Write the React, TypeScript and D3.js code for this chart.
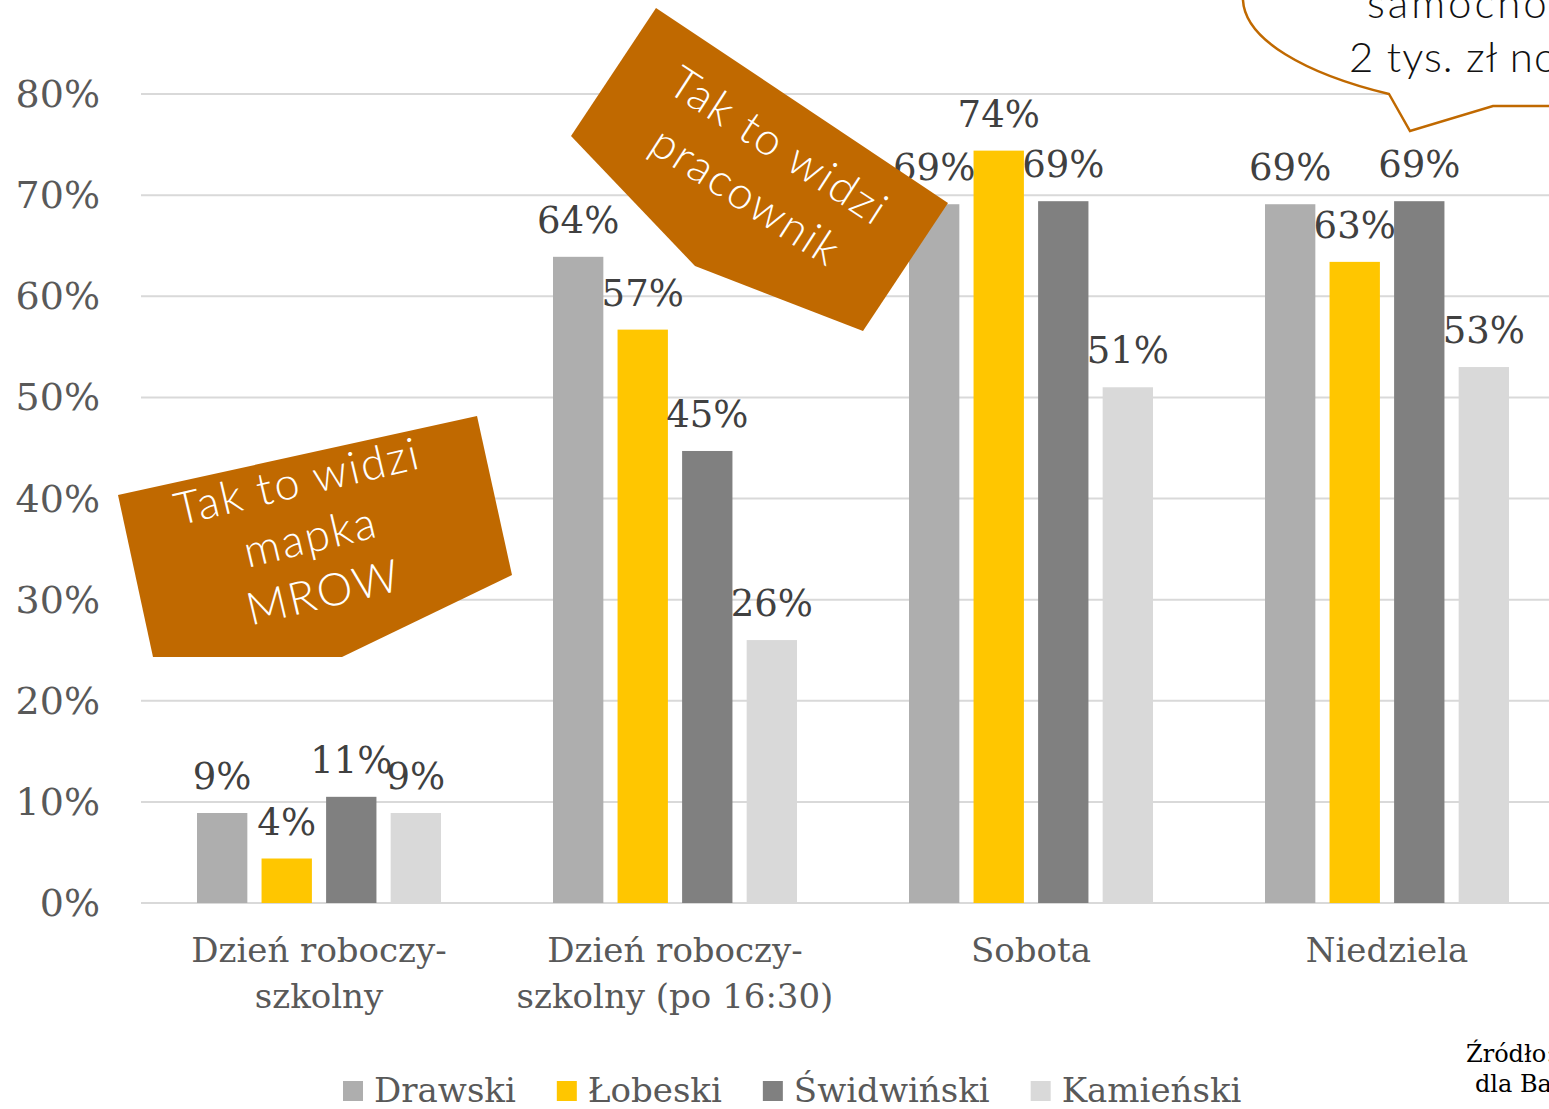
import { useEffect, useRef } from 'react';
import * as d3 from 'd3';

const categories = ['Dzień roboczy-szkolny', 'Dzień roboczy-szkolny (po 16:30)', 'Sobota', 'Niedziela'];
const categoryLines = [['Dzień roboczy-', 'szkolny'], ['Dzień roboczy-', 'szkolny (po 16:30)'], ['Sobota'], ['Niedziela']];
const seriesNames = ['Drawski', 'Łobeski', 'Świdwiński', 'Kamieński'];
const seriesColors = ['#AEAEAE', '#FFC600', '#808080', '#D9D9D9'];
const drawski = [8.9, 63.9, 69.1, 69.1];
const lobeski = [4.4, 56.7, 74.4, 63.4];
const swidwinski = [10.5, 44.7, 69.4, 69.4];
const kamienski = [8.9, 26.0, 51.0, 53.0];
const seriesValues = [drawski, lobeski, swidwinski, kamienski];
const yTicks = [0, 10, 20, 30, 40, 50, 60, 70, 80];

const noteMapka = ['Tak to widzi', 'mapka', 'MROW'];
const notePracownik = ['Tak to widzi', 'pracownik'];
const bubbleLines = ['samochodem', '2 tys. zł nocą'];
const sourceLines = ['Źródło: opracowanie', 'dla Bankier.pl'];

const W = 1549;
const H = 1109;
const ORANGE = '#C06900';
const SERIF = '"DejaVu Serif", serif';
const SANS = 'Lato, "Open Sans", sans-serif';

export default function App() {
  const svgRef = useRef<SVGSVGElement>(null);

  useEffect(() => {
    if (!svgRef.current) return;
    const svg = d3.select(svgRef.current);
    svg.selectAll('*').remove();

    const x0 = d3.scaleBand<string>().domain(categories).range([141, 1565]).padding(0);
    const x1 = d3.scaleBand<string>().domain(seriesNames).range([56, 300]).paddingInner(0.22);
    const y = d3.scaleLinear().domain([0, 80]).range([903, 94]);

    // gridlines + y labels
    const grid = svg.append('g');
    yTicks.forEach(t => {
      grid.append('line')
        .attr('x1', 141).attr('x2', W)
        .attr('y1', y(t)).attr('y2', y(t))
        .attr('stroke', '#D9D9D9').attr('stroke-width', 2);
      grid.append('text')
        .attr('x', 100).attr('y', y(t) + 13)
        .attr('text-anchor', 'end')
        .attr('font-family', SERIF).attr('font-size', 38)
        .attr('fill', '#595959')
        .text(`${t}%`);
    });

    // bars
    const bars = svg.append('g');
    seriesValues.forEach((vals, si) => {
      vals.forEach((v, ci) => {
        const bx = x0(categories[ci])! + x1(seriesNames[si])!;
        bars.append('rect')
          .attr('x', bx).attr('y', y(v))
          .attr('width', x1.bandwidth()).attr('height', y(0) - y(v))
          .attr('fill', seriesColors[si]);
      });
    });

    // data labels
    const labels = svg.append('g');
    seriesValues.forEach((vals, si) => {
      vals.forEach((v, ci) => {
        const cx = x0(categories[ci])! + x1(seriesNames[si])! + x1.bandwidth() / 2;
        labels.append('text')
          .attr('x', cx).attr('y', y(v) - 24)
          .attr('text-anchor', 'middle')
          .attr('font-family', SERIF).attr('font-size', 37)
          .attr('fill', '#404040')
          .text(`${Math.round(v)}%`);
      });
    });

    // category labels
    categoryLines.forEach((lines, ci) => {
      const cx = x0(categories[ci])! + x0.bandwidth() / 2;
      lines.forEach((ln, li) => {
        svg.append('text')
          .attr('x', cx).attr('y', 962 + li * 46)
          .attr('text-anchor', 'middle')
          .attr('font-family', SERIF).attr('font-size', 34)
          .attr('fill', '#595959')
          .text(ln);
      });
    });

    // legend
    const legend = svg.append('g');
    let lx = 343;
    seriesNames.forEach((name, si) => {
      legend.append('rect')
        .attr('x', lx).attr('y', 1081)
        .attr('width', 20).attr('height', 20)
        .attr('fill', seriesColors[si]);
      const t = legend.append('text')
        .attr('x', lx + 31).attr('y', 1102)
        .attr('font-family', SERIF).attr('font-size', 34)
        .attr('fill', '#595959')
        .text(name);
      const w = (t.node() as SVGTextElement).getComputedTextLength();
      lx += 31 + w + 41;
    });

    // source (cut by the right edge, as in the original)
    sourceLines.forEach((ln, i) => {
      svg.append('text')
        .attr('x', i === 0 ? 1466 : 1475).attr('y', 1062 + i * 30)
        .attr('font-family', SERIF).attr('font-size', 24)
        .attr('fill', '#000')
        .text(ln);
    });

    // annotation: mapka MROW
    svg.append('polygon')
      .attr('points', [[118, 495], [477, 416], [512, 575], [342, 657], [153, 657]].map(p => p.join(',')).join(' '))
      .attr('fill', ORANGE);
    const g1 = svg.append('g').attr('transform', 'translate(314,552) rotate(-13.3)');
    noteMapka.forEach((ln, i) => {
      g1.append('text')
        .attr('x', 0).attr('y', (i - 1) * 57)
        .attr('text-anchor', 'middle')
        .attr('font-family', SANS).attr('font-weight', 300).attr('font-size', 45)
        .attr('letter-spacing', 2)
        .attr('fill', '#fff')
        .text(ln);
    });

    // annotation: pracownik
    svg.append('polygon')
      .attr('points', [[656, 8], [948, 203], [863, 331], [695, 266], [571, 136]].map(p => p.join(',')).join(' '))
      .attr('fill', ORANGE);
    const g2 = svg.append('g').attr('transform', 'translate(754,184) rotate(33)');
    notePracownik.forEach((ln, i) => {
      g2.append('text')
        .attr('x', 0).attr('y', i === 0 ? -30 : 30)
        .attr('text-anchor', 'middle')
        .attr('font-family', SANS).attr('font-weight', 300).attr('font-size', 45)
        .attr('letter-spacing', 2)
        .attr('fill', '#fff')
        .text(ln);
    });

    // speech bubble (top right, cut by the edge)
    const curve = 'M1243,-5 C1240,40 1310,75 1389,94 L1410,131 L1493,106 L1560,106';
    svg.append('path')
      .attr('d', curve + ' L1560,-10 L1243,-10 Z')
      .attr('fill', '#fff');
    svg.append('path')
      .attr('d', curve)
      .attr('fill', 'none')
      .attr('stroke', ORANGE).attr('stroke-width', 2.5);
    bubbleLines.forEach((ln, i) => {
      svg.append('text')
        .attr('x', i === 0 ? 1367 : 1349).attr('y', 18 + i * 54)
        .attr('font-family', SANS).attr('font-weight', 300).attr('font-size', 42)
        .attr('letter-spacing', i === 0 ? 3 : 1)
        .attr('fill', '#111')
        .text(ln);
    });
  }, []);

  return (
    <svg
      ref={svgRef}
      width={W}
      height={H}
      style={{ position: 'absolute', left: 0, top: 0, display: 'block', background: '#fff' }}
    />
  );
}
